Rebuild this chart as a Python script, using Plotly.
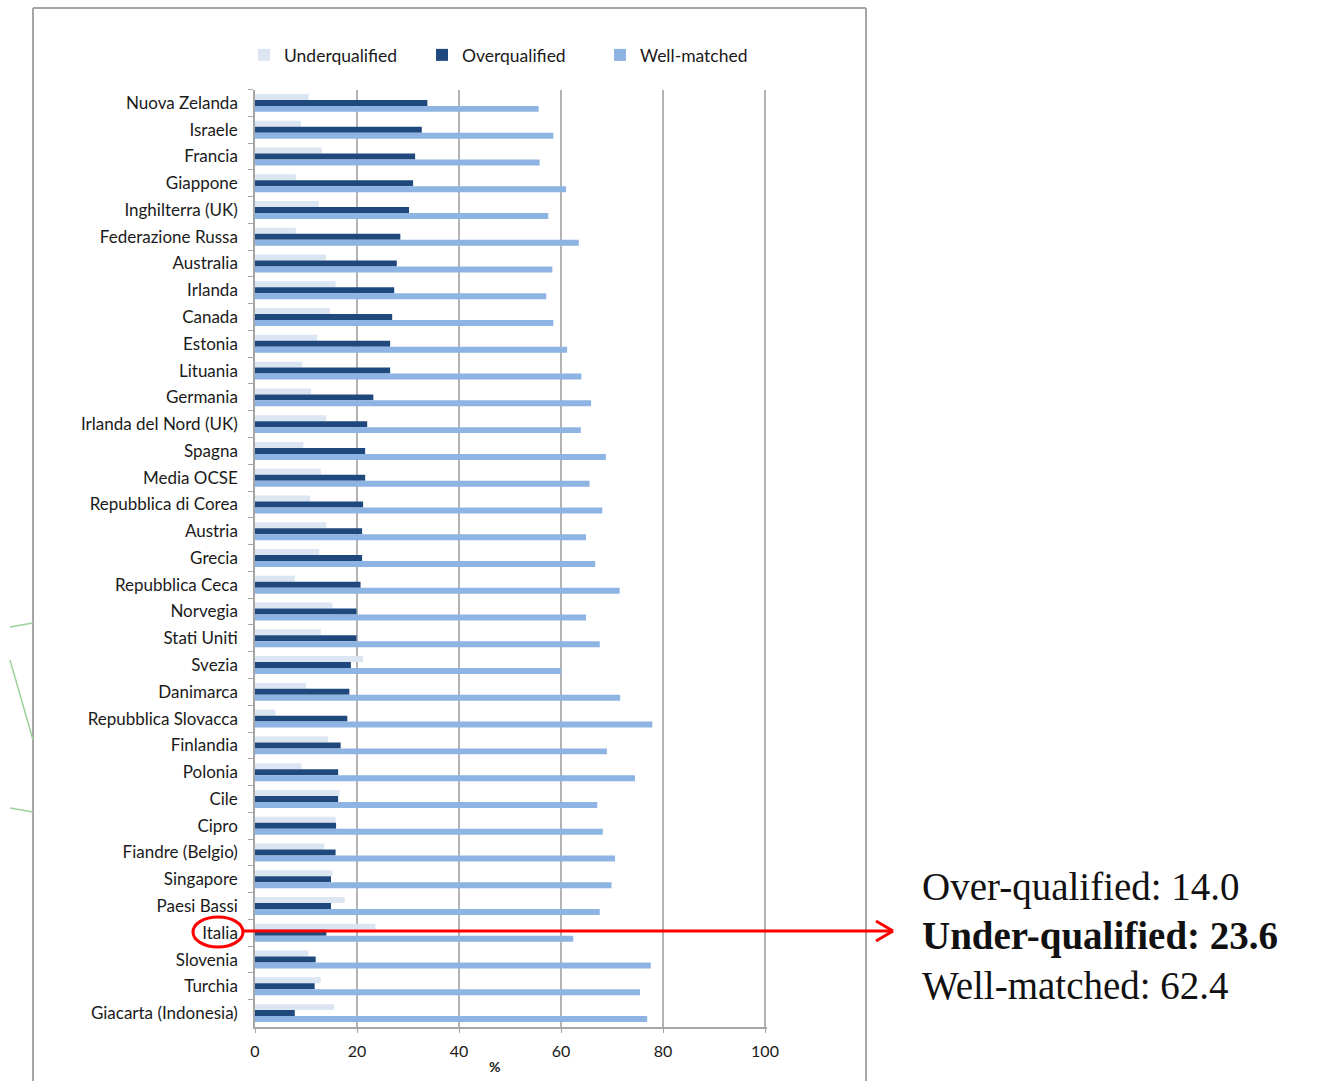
import plotly.graph_objects as go

W, H = 1319, 1081

countries = [
    "Nuova Zelanda", "Israele", "Francia", "Giappone", "Inghilterra (UK)",
    "Federazione Russa", "Australia", "Irlanda", "Canada", "Estonia",
    "Lituania", "Germania", "Irlanda del Nord (UK)", "Spagna", "Media OCSE",
    "Repubblica di Corea", "Austria", "Grecia", "Repubblica Ceca", "Norvegia",
    "Stati Uniti", "Svezia", "Danimarca", "Repubblica Slovacca", "Finlandia",
    "Polonia", "Cile", "Cipro", "Fiandre (Belgio)", "Singapore",
    "Paesi Bassi", "Italia", "Slovenia", "Turchia", "Giacarta (Indonesia)",
]
underqualified = [10.5, 9.0, 13.1, 8.0, 12.5, 8.0, 13.9, 15.8, 14.7, 12.2,
                  9.3, 11.0, 14.0, 9.5, 12.9, 10.8, 14.0, 12.6, 7.8, 15.2,
                  12.9, 21.2, 10.0, 4.0, 14.3, 9.1, 16.6, 15.8, 13.6, 15.2,
                  17.6, 23.6, 10.5, 12.9, 15.5]
overqualified = [33.8, 32.7, 31.4, 31.0, 30.2, 28.5, 27.8, 27.3, 26.9, 26.5,
                 26.5, 23.2, 22.0, 21.6, 21.6, 21.2, 21.0, 21.0, 20.7, 19.9,
                 19.9, 18.8, 18.5, 18.1, 16.8, 16.3, 16.3, 15.9, 15.8, 14.9,
                 14.9, 14.0, 11.9, 11.7, 7.8]
well_matched = [55.6, 58.5, 55.8, 61.0, 57.5, 63.5, 58.3, 57.1, 58.5, 61.2,
                64.0, 65.9, 63.9, 68.8, 65.6, 68.1, 64.9, 66.7, 71.5, 64.9,
                67.6, 60.0, 71.6, 77.9, 69.0, 74.5, 67.1, 68.2, 70.6, 69.9,
                67.6, 62.4, 77.6, 75.5, 76.9]
x_ticks = [0, 20, 40, 60, 80, 100]

highlight = "Italia"
hi = countries.index(highlight)
callout = [
    ("Over-qualified", overqualified[hi], False),
    ("Under-qualified", underqualified[hi], True),
    ("Well-matched", well_matched[hi], False),
]


def px_x(x):
    return x / W


def px_y(y):
    return 1 - y / H


label_font = dict(family="Lato, 'Open Sans', sans-serif", size=17, color="#1a1a1a")
legend_font = dict(family="Lato, 'Open Sans', sans-serif", size=17.5, color="#1a1a1a")

fig = go.Figure()
fig.add_trace(go.Bar(y=countries, x=underqualified, name="Underqualified",
                     orientation="h", marker=dict(color="#dce6f2", line_width=0)))
fig.add_trace(go.Bar(y=countries, x=overqualified, name="Overqualified",
                     orientation="h", marker=dict(color="#1f487c", line_width=0)))
fig.add_trace(go.Bar(y=countries, x=well_matched, name="Well-matched",
                     orientation="h", marker=dict(color="#8db4e2", line_width=0)))

# x: 0 at 255px, 5.1px per unit; a hair past 100 so its gridline shows
x_max = 100.3
fig.update_layout(
    width=W, height=H, autosize=False,
    margin=dict(l=0, r=0, t=0, b=0, pad=0, autoexpand=False),
    paper_bgcolor="white", plot_bgcolor="white",
    barmode="group", bargap=0.33, bargroupgap=0.0,
    showlegend=True,
    legend=dict(orientation="h", x=px_x(244), y=px_y(37), xanchor="left",
                yanchor="top", font=legend_font, entrywidth=133,
                itemwidth=30, bgcolor="rgba(0,0,0,0)", traceorder="normal"),
    xaxis=dict(domain=[px_x(255), px_x(255 + 5.1 * x_max)], range=[0, x_max],
               tickvals=x_ticks, ticktext=[str(v) for v in x_ticks],
               showgrid=True, gridcolor="#b3b3b3", gridwidth=1.5,
               showline=True, linecolor="#a6a6a6", linewidth=1.5,
               ticks="outside", ticklen=5, tickcolor="#a6a6a6",
               ticklabelstandoff=5,
               tickfont=dict(family="Lato, 'Open Sans', sans-serif", size=16,
                             color="#1a1a1a"),
               zeroline=False, fixedrange=True, automargin=False),
    yaxis=dict(domain=[px_y(1026.5), px_y(89.5)], type="category",
               categoryorder="array", categoryarray=countries,
               autorange="reversed", tickson="boundaries",
               showline=True, linecolor="#a6a6a6", linewidth=1.5,
               ticks="outside", ticklen=5, tickcolor="#a6a6a6",
               ticklabelstandoff=12, tickfont=label_font,
               showgrid=False, zeroline=False, fixedrange=True,
               automargin=False),
)

# axis unit
fig.add_annotation(text="<b>%</b>", xref="paper", yref="paper",
                   x=px_x(495), y=px_y(1077), yanchor="bottom", showarrow=False,
                   font=dict(family="Lato, sans-serif", size=14, color="#1a1a1a"))

# chart frame
frame = dict(color="#a6a6a6", width=2)
fig.add_shape(type="line", xref="paper", yref="paper", x0=px_x(33), x1=px_x(33),
              y0=px_y(8), y1=px_y(1081), line=frame)
fig.add_shape(type="line", xref="paper", yref="paper", x0=px_x(33), x1=px_x(866),
              y0=px_y(8), y1=px_y(8), line=frame)
fig.add_shape(type="line", xref="paper", yref="paper", x0=px_x(866), x1=px_x(866),
              y0=px_y(8), y1=px_y(1081), line=frame)

# faint green strokes on the left edge of the slide
green = dict(color="#9ad29a", width=1.5)
for (x0, y0, x1, y1) in [(10, 627, 33, 623), (10, 660, 33, 740), (10, 808, 33, 812)]:
    fig.add_shape(type="line", xref="paper", yref="paper",
                  x0=px_x(x0), y0=px_y(y0), x1=px_x(x1), y1=px_y(y1), line=green)

# highlight ring around the Italia label and arrow to the callout
red = dict(color="#ff0000", width=3)
fig.add_shape(type="circle", xref="paper", yref="paper",
              x0=px_x(193), x1=px_x(243), y0=px_y(917), y1=px_y(947), line=red)
fig.add_shape(type="line", xref="paper", yref="paper",
              x0=px_x(243), x1=px_x(893), y0=px_y(931), y1=px_y(931), line=red)
fig.add_shape(type="line", xref="paper", yref="paper",
              x0=px_x(876), x1=px_x(893), y0=px_y(921), y1=px_y(931), line=red)
fig.add_shape(type="line", xref="paper", yref="paper",
              x0=px_x(876), x1=px_x(893), y0=px_y(941), y1=px_y(931), line=red)

# callout text
for i, (name, val, bold) in enumerate(callout):
    txt = f"{name}: {val:.1f}"
    if bold:
        txt = f"<b>{txt}</b>"
    fig.add_annotation(text=txt, xref="paper", yref="paper",
                       x=px_x(920), y=px_y(887 + 49 * i), xanchor="left",
                       yanchor="middle", showarrow=False,
                       font=dict(family="'Liberation Serif', 'DejaVu Serif', serif",
                                 size=39, color="#111111"))

fig.write_html(
    "out.html",
    config={"responsive": False, "displayModeBar": False},
    default_width=f"{W}px", default_height=f"{H}px",
    post_script="document.body.style.margin='0';document.body.style.overflow='hidden';",
)
